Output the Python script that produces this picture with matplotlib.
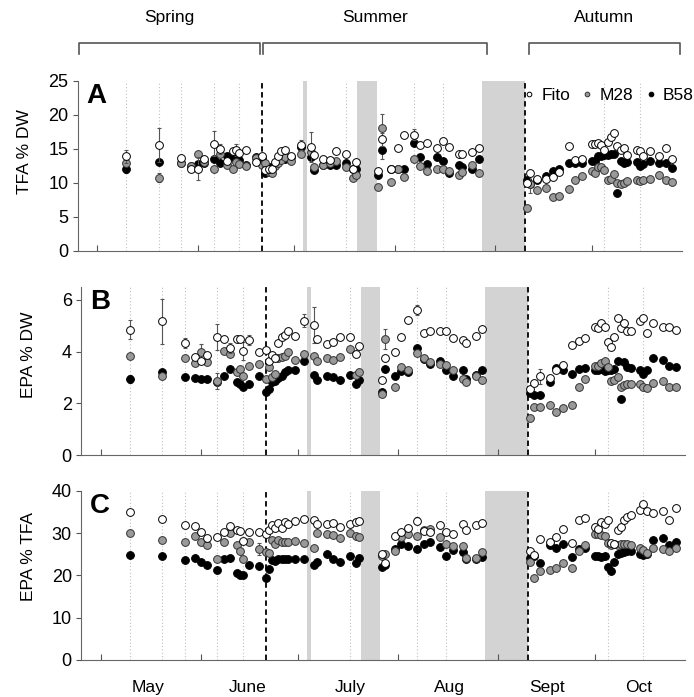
import matplotlib
matplotlib.use("Agg")
import matplotlib.pyplot as plt

plt.rcParams["font.family"] = ["Liberation Sans", "DejaVu Sans"]

# sampling days (day of year)
dates = [130, 140, 147, 150, 152, 154, 157, 159, 161, 163, 164, 165, 167, 170,
         172, 173, 174, 175, 176, 177, 178, 179, 181, 184, 187, 188, 191, 193, 195, 198, 200, 201,
         208, 209, 212, 214, 216, 219, 221, 223, 226, 228, 230, 233, 234, 237, 239,
         254, 255, 257, 260, 262, 264, 267, 269, 271, 274, 275, 276, 277, 278, 279, 280, 281,
         282, 283, 284, 285, 288, 289, 290, 292, 295, 297, 299]

# A: TFA % DW
tfa_fito = [13.9, 15.6, 13.7, 12.1, 12.1, 13.5, 15.8, 15.0, 13.2, 14.7, 14.8, 14.4, 14.8, 13.1,
            13.9, 11.9, 12.1, 12.1, 13.1, 13.9, 14.7, 14.9, 14.0, 15.6, 15.3, 14.1, 13.5, 13.4, 14.7, 14.3, 12.0, 13.1,
            11.8, 16.4, 12.1, 15.2, 17.0, 17.1, 15.6, 15.9, 15.1, 16.2, 15.3, 14.2, 14.2, 14.6, 15.2,
            10.0, 11.4, 10.6, 10.6, 10.9, 11.6, 15.5, 13.4, 13.6, 15.8, 15.8, 15.9, 15.6, 14.9, 16.1, 16.7, 17.4,
            15.4, 14.9, 15.1, 14.1, 14.8, 14.7, 13.9, 14.7, 13.9, 15.1, 13.5]
tfa_m28 = [12.9, 10.8, 13.0, 12.5, 14.3, 13.1, 12.1, 14.2, 12.6, 12.0, 13.1, 12.8, 12.5, 13.7,
           12.6, 13.0, 11.6, 11.5, 12.5, 12.9, 13.4, 13.8, 13.2, 14.2, 14.6, 12.3, 12.6, 12.9, 13.2, 12.3, 10.8, 11.2,
           9.4, 18.1, 10.2, 12.0, 10.9, 13.5, 12.5, 11.8, 12.1, 12.0, 11.7, 11.2, 11.6, 12.6, 11.5,
           6.3, 9.8, 9.0, 9.2, 7.9, 8.1, 9.1, 10.4, 11.0, 11.8, 11.5, 12.3, 12.3, 11.9, 10.5, 10.6, 11.3,
           10.0, 9.8, 10.0, 10.3, 10.5, 10.3, 10.4, 10.6, 11.2, 10.4, 10.1]
tfa_b58 = [12.0, 13.1, 12.9, 12.5, 12.8, 12.9, 13.5, 13.0, 13.9, 13.8, 13.7, 13.4, 12.6, 13.8,
           13.6, 11.4, 12.3, 12.0, 12.8, 13.4, 13.5, 13.6, 13.8, 15.3, 13.8, 11.9, 12.6, 12.6, 12.6, 12.9, 12.1, 12.1,
           11.2, 14.8, 12.0, 12.0, 12.0, 15.9, 13.8, 12.8, 13.8, 13.3, 11.4, 12.7, 12.4, 12.1, 13.6,
           10.4, 9.8, 10.5, 11.0, 11.8, 12.0, 13.0, 13.0, 12.9, 13.3, 13.3, 14.0, 13.9, 14.1, 14.1, 14.2, 14.2,
           8.5, 13.3, 12.9, 13.1, 13.1, 12.5, 12.8, 13.3, 12.9, 12.9, 12.2]

# B: EPA % DW
epa_fito = [4.85, 5.17, 4.33, 3.81, 3.63, 3.88, 4.55, 4.49, 4.14, 4.49, 4.49, 4.01, 4.46, 3.99,
            4.08, 3.63, 3.88, 3.74, 4.32, 4.55, 4.65, 4.81, 4.59, 5.19, 5.04, 4.49, 4.29, 4.38, 4.55, 4.58, 3.91, 4.23,
            2.91, 3.76, 4.00, 4.55, 5.23, 5.60, 4.74, 4.78, 4.78, 4.78, 4.51, 4.45, 4.32, 4.62, 4.87,
            2.56, 2.78, 3.04, 2.99, 3.27, 3.49, 4.26, 4.40, 4.53, 4.96, 4.91, 5.09, 4.96, 4.36, 4.19, 4.55, 5.29,
            4.91, 5.09, 4.81, 4.81, 5.19, 5.32, 4.74, 5.09, 4.94, 4.96, 4.83]
epa_m28 = [3.83, 3.04, 3.76, 3.56, 4.00, 3.59, 2.86, 4.01, 3.91, 3.20, 3.33, 3.04, 3.46, 3.53,
           2.95, 3.40, 3.01, 3.14, 3.76, 3.81, 3.82, 4.00, 3.68, 3.91, 3.83, 3.65, 3.76, 3.69, 3.78, 4.10, 3.10, 3.20,
           2.35, 4.49, 2.63, 3.40, 3.27, 3.93, 3.76, 3.59, 3.53, 3.50, 3.30, 2.95, 2.82, 3.04, 2.91,
           1.43, 1.86, 1.86, 1.95, 1.67, 1.83, 1.92, 2.63, 2.95, 3.46, 3.46, 3.55, 3.63, 3.40, 2.88, 2.91, 3.01,
           2.65, 2.69, 2.76, 2.73, 2.73, 2.63, 2.60, 2.79, 2.88, 2.65, 2.65]
epa_b58 = [2.93, 3.20, 3.01, 2.97, 2.95, 2.95, 2.82, 3.04, 3.33, 2.82, 2.76, 2.65, 2.76, 3.04,
           2.44, 2.57, 2.82, 2.86, 2.99, 3.04, 3.20, 3.27, 3.27, 3.63, 3.10, 2.91, 3.06, 3.01, 2.91, 3.11, 2.73, 2.91,
           2.44, 3.31, 3.04, 3.25, 3.20, 4.14, 3.72, 3.53, 3.65, 3.27, 3.04, 3.27, 2.95, 3.11, 3.27,
           2.40, 2.31, 2.31, 2.82, 3.37, 3.27, 3.14, 3.33, 3.37, 3.27, 3.27, 3.33, 3.25, 3.27, 3.30, 3.33, 3.63,
           2.18, 3.59, 3.40, 3.37, 3.29, 3.14, 3.27, 3.76, 3.68, 3.46, 3.40]

# C: EPA % TFA
pct_fito = [35.1, 33.3, 32.0, 31.7, 30.4, 28.9, 29.1, 30.3, 31.7, 30.7, 30.5, 28.1, 30.4, 30.4,
            29.8, 30.7, 32.0, 31.2, 32.4, 31.2, 32.6, 32.3, 32.8, 33.3, 33.1, 32.1, 32.1, 32.4, 31.5, 32.3, 32.7, 32.8,
            25.0, 23.0, 29.4, 30.2, 31.2, 33.0, 30.5, 30.2, 31.9, 30.2, 29.8, 32.1, 30.7, 31.9, 32.4,
            25.8, 24.8, 28.6, 28.0, 29.2, 30.9, 27.8, 33.1, 33.6, 31.5, 31.0, 32.6, 32.1, 33.1, 27.8, 27.4, 30.7,
            31.5, 33.1, 33.9, 34.3, 35.5, 36.8, 35.2, 34.9, 35.3, 33.2, 36.0]
pct_m28 = [30.1, 28.3, 28.0, 29.4, 27.9, 27.2, 24.0, 28.0, 30.1, 27.1, 25.8, 24.0, 27.9, 26.3,
           25.6, 25.4, 28.3, 27.4, 28.5, 27.9, 28.0, 27.9, 28.2, 27.8, 26.6, 30.0, 29.9, 29.5, 28.8, 30.1, 29.3, 29.0,
           24.6, 25.0, 25.8, 29.0, 29.8, 29.4, 30.7, 31.0, 29.2, 27.4, 27.0, 26.9, 24.2, 24.2, 25.6,
           23.2, 19.3, 21.0, 21.4, 21.7, 23.0, 21.7, 25.8, 27.2, 29.8, 29.8, 29.6, 29.4, 27.7, 27.3, 27.5, 27.3,
           27.5, 27.5, 27.5, 27.2, 26.6, 26.0, 25.3, 26.5, 26.2, 25.8, 26.5]
pct_b58 = [24.8, 24.7, 23.6, 24.2, 23.2, 22.5, 21.3, 23.8, 24.1, 20.5, 20.2, 20.1, 22.4, 22.3,
           19.3, 21.6, 23.6, 23.4, 23.9, 24.0, 24.0, 24.0, 23.8, 24.0, 22.5, 23.2, 25.0, 23.8, 23.2, 24.6, 22.9, 24.2,
           22.0, 22.5, 26.2, 27.5, 26.9, 26.2, 27.5, 28.0, 26.7, 24.6, 26.0, 25.6, 23.9, 24.0, 24.4,
           24.1, 24.6, 22.9, 27.2, 26.5, 27.4, 24.4, 26.3, 26.6, 24.6, 24.6, 24.4, 24.6, 21.9, 21.1, 23.1, 25.0,
           25.4, 25.6, 25.8, 25.9, 25.0, 24.8, 25.0, 28.3, 28.8, 27.2, 27.9]

# visible error bars (day -> sd)
tfa_err = [{130: 1.0, 140: 2.5, 152: 1.7, 157: 1.8, 159: 0.8, 164: 0.9, 184: 0.7, 187: 2.2, 209: 1.0, 219: 0.8},
           {140: 0.7, 209: 2.1, 255: 1.2},
           {130: 0.6, 209: 1.3}]
epa_err = [{130: 0.37, 140: 0.87, 147: 0.2, 157: 0.5, 161: 0.2, 165: 0.35, 167: 0.2, 184: 0.25, 187: 0.7,
            219: 0.2, 257: 0.3},
           {209: 0.4, 152: 0.3, 157: 0.3},
           {130: 0.15}]
pct_err = [{219: 0.8}, {170: 1.5}, {}]

month_starts = [121, 152, 182, 213, 244, 274]
month_names = ["May", "June", "July", "Aug", "Sept", "Oct"]
month_label_days = [135.5, 166.4, 198.3, 228.9, 259.2, 287.6]
dotted_days = [130, 140, 147, 157, 165, 198, 219, 228, 278, 289]
season_breaks = [172, 253.3]
gray_spans = [(184.8, 186.0), (201.5, 207.5), (240.0, 253.3)]
seasons = ["Spring", "Summer", "Autumn"]
season_ranges = [(115.3, 171.5), (172.3, 241.5), (254.5, 301.5)]

fig = plt.figure(figsize=(6.94, 6.97), dpi=100)
axA = fig.add_axes([0.1124, 0.6399, 0.8703, 0.2439])
axB = fig.add_axes([0.1174, 0.3472, 0.8703, 0.2410])
axC = fig.add_axes([0.1174, 0.0531, 0.8703, 0.2425])

styles = [dict(mfc="white", mec="black", label="Fito", zorder=5),
          dict(mfc="#999999", mec="#333333", label="M28", zorder=4),
          dict(mfc="black", mec="black", label="B58", zorder=3)]


def draw_panel(ax, series, errs, ylim, yticks, ylabel, letter, label_y):
    for a, b in gray_spans:
        ax.axvspan(a, b, color="#d3d3d3", lw=0, zorder=0)
    for d in dotted_days:
        ax.axvline(d, color="#c0c0c0", ls=(0, (1, 2)), lw=0.8, zorder=0.5)
    for d in season_breaks:
        ax.axvline(d, color="black", ls=(0, (3, 2)), lw=1.3, zorder=1)

    for vals, err, st in zip(series, errs, styles):
        ex = [d for d in dates if d in err]
        ey = [vals[dates.index(d)] for d in ex]
        ax.errorbar(ex, ey, yerr=[err[d] for d in ex], fmt="none", ecolor="#555555",
                    elinewidth=0.8, capsize=1.5, capthick=0.8, zorder=st["zorder"] - 0.5)
        ax.plot(dates, vals, "o", ms=5.6, mew=0.7, ls="none", **st)

    ax.set_xlim(115, 302)
    ax.set_ylim(*ylim)
    ax.set_yticks(yticks)
    ax.set_xticks(month_starts)
    ax.tick_params(axis="x", direction="in", length=4, labelbottom=False, color="#555555")
    ax.tick_params(axis="y", direction="out", length=3.5, labelsize=13, color="#555555")
    for s in ["top", "right"]:
        ax.spines[s].set_visible(False)
    for s in ["left", "bottom"]:
        ax.spines[s].set_color("#666666")
    ax.set_ylabel(ylabel, fontsize=12.5)
    ax.yaxis.set_label_coords(-0.076, label_y)
    ax.text(0.014, 0.99, letter, transform=ax.transAxes, fontsize=20, fontweight="bold",
            ha="left", va="top")


draw_panel(axA, [tfa_fito, tfa_m28, tfa_b58], tfa_err, (0, 25), [0, 5, 10, 15, 20, 25],
           "TFA % DW", "A", 0.585)
draw_panel(axB, [epa_fito, epa_m28, epa_b58], epa_err, (0, 6.5), [0, 2, 4, 6],
           "EPA % DW", "B", 0.595)
draw_panel(axC, [pct_fito, pct_m28, pct_b58], pct_err, (0, 40), [0, 10, 20, 30, 40],
           "EPA % TFA", "C", 0.611)

for name, x in zip(month_names, month_label_days):
    axC.text(x, -0.165, name, transform=axC.get_xaxis_transform(), ha="center", va="center",
             fontsize=12.5)

trans = axA.get_xaxis_transform()
for name, (s, e) in zip(seasons, season_ranges):
    axA.plot([s, s, e, e], [1.16, 1.224, 1.224, 1.16], transform=trans, clip_on=False,
             color="#555555", lw=1.2)
    axA.text((s + e) / 2, 1.375, name, transform=trans, ha="center", va="center", fontsize=12.5)

axA.legend(loc="upper right", bbox_to_anchor=(1.045, 1.05), ncol=3, frameon=False, fontsize=12.5,
           markerscale=0.6, handlelength=0.8, handletextpad=0.3, columnspacing=0.6)

fig.savefig("out.png", dpi=100)
